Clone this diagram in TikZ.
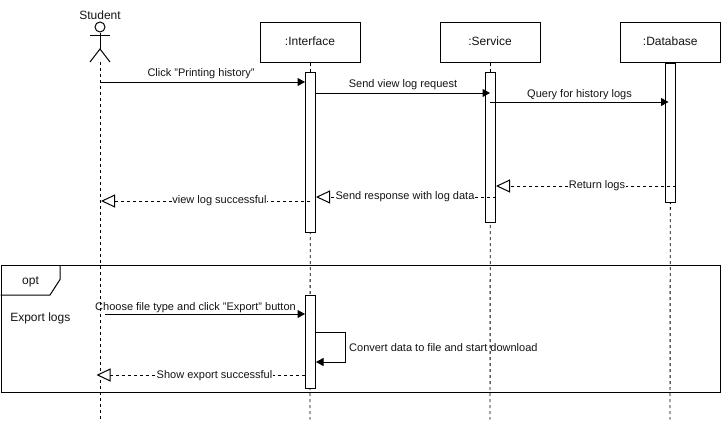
\documentclass[tikz,border=0pt]{standalone}
\usepackage{fontspec}
\setmainfont{Liberation Sans}
\usetikzlibrary{arrows.meta}
\definecolor{ink}{RGB}{0,0,0}
\definecolor{txt}{RGB}{20,20,20}
\tikzset{
  x=1pt,y=-1pt,
  every node/.style={font=\fontsize{11pt}{12pt}\selectfont,text=txt,inner sep=0pt},
  biglabel/.style={font=\fontsize{12pt}{13pt}\selectfont},
  objbox/.style={draw=ink,line width=1pt,fill=white,minimum width=100pt,minimum height=40pt,anchor=north west},
  actbox/.style={draw=ink,line width=1pt,fill=white,minimum width=10pt,anchor=north west},
  lifeline/.style={draw=ink,line width=.9pt,dash pattern=on 3pt off 3pt},
  syncmsg/.style={draw=ink,line width=1pt,-{Triangle[length=7.5pt,width=8pt,fill=ink]}},
  replymsg/.style={draw=ink,line width=.9pt,dash pattern=on 3pt off 3pt,-{Triangle[open,length=14pt,width=13pt,fill=white,line width=1pt]}},
  msglabel/.style={fill=white,inner xsep=0.5pt,inner ysep=1pt},
  actorline/.style={draw=ink,line width=1pt},
}
\begin{document}
\begin{tikzpicture}
\useasboundingbox (0.5,0.5) rectangle (721.5,423.5);
\fill[white] (0.5,0.5) rectangle (721.5,423.5);
% frame
\node[draw=ink,line width=1pt,minimum width=719.6pt,minimum height=127pt,anchor=north west] (frame) at (1,265.5) {};
\coordinate (tabR) at (60.5,265.5);
\coordinate (tabM) at (60.5,280);
\coordinate (tabB) at (50.5,295.5);
\coordinate (tabL) at (1,295.5);
\draw[ink,line width=1pt] (tabR) -- (tabM) -- (tabB) -- (tabL);
\node[biglabel] (opt) at (31,282) {opt};
\node[biglabel] (exportlogs) at (40.8,318.5) {Export logs};
% lifeline ends
\coordinate (endS) at (100.5,420);
\coordinate (endI) at (310.5,420);
\coordinate (endV) at (490.5,420);
\coordinate (endD) at (670.5,420);
% object boxes
\node[objbox] (iface) at (260.5,22.5) {};
\node[objbox] (serv) at (440.5,22.5) {};
\node[objbox] (db) at (620.5,22.5) {};
\node[biglabel] (ifacelabel) at (310.5,42) {:Interface};
\node[biglabel] (servlabel) at (490.5,42) {:Service};
\node[biglabel] (dblabel) at (670.8,42) {:Database};
% actor
\node[biglabel] (student) at (100.5,16) {Student};
\node[draw=ink,line width=1pt,circle,minimum size=10pt] (head) at (100.5,27.5) {};
\coordinate (hip) at (100.5,49.5);
\coordinate (armL) at (90.5,35.5);
\coordinate (armR) at (110.5,35.5);
\coordinate (legL) at (90.5,62.5);
\coordinate (legR) at (110.5,62.5);
\coordinate (foot) at (100.5,62.5);
\draw[actorline] (head.south) -- (hip);
\draw[actorline] (armL) -- (armR);
\draw[actorline] (legL) -- (hip) -- (legR);
% lifelines
\draw[lifeline] (foot) -- (endS);
\draw[lifeline] (iface.south) -- (endI);
\draw[lifeline] (serv.south) -- (endV);
\draw[lifeline] (db.south) -- (endD);
% activations
\node[actbox,minimum height=160pt] (actI) at (305.5,72.5) {};
\node[actbox,minimum height=150pt] (actV) at (485.5,72.5) {};
\node[actbox,minimum height=139pt] (actD) at (665.5,63.5) {};
\node[actbox,minimum height=93pt] (actE) at (305.5,295.5) {};
% messages
\draw[syncmsg] (foot |- 0,82.5) -- (actI.west |- 0,82.5);
\node (m1) at (201.5,74) {Click "Printing history"};
\draw[syncmsg] (actI.east |- 0,93.5) -- (endV |- 0,93.5);
\node (m2) at (403.5,85.5) {Send view log request};
\draw[syncmsg] (endV |- 0,102.5) -- (669,102.5);
\node (m3) at (580,95) {Query for history logs};
\draw[replymsg] (actD.east |- 0,186.5) -- (actV.east |- 0,186.5);
\node[msglabel] (m4) at (597.5,186) {Return logs};
\draw[replymsg] (actV.east |- 0,197.5) -- (actI.east |- 0,197.5);
\node[msglabel] (m5) at (405.5,197) {Send response with log data};
\draw[replymsg] (endI |- 0,201.5) -- ([xshift=1pt]endS |- 0,201.5);
\node[msglabel] (m6) at (220,201.5) {view log successful};
\draw[syncmsg] (105.5,314.5) -- (actE.west |- 0,314.5);
\node (m7) at (196,308) {Choose file type and click "Export" button};
\draw[syncmsg] (actE.east |- 0,332.5) -- (345.5,332.5) -- (345.5,362.5) -- (actE.east |- 0,362.5);
\node[anchor=west] (m8) at (349.5,348) {Convert data to file and start download};
\draw[replymsg] (actE.west |- 0,375.5) -- ([xshift=-3.5pt]endS |- 0,375.5);
\node[msglabel] (m9) at (215,376) {Show export successful};
\end{tikzpicture}
\end{document}
